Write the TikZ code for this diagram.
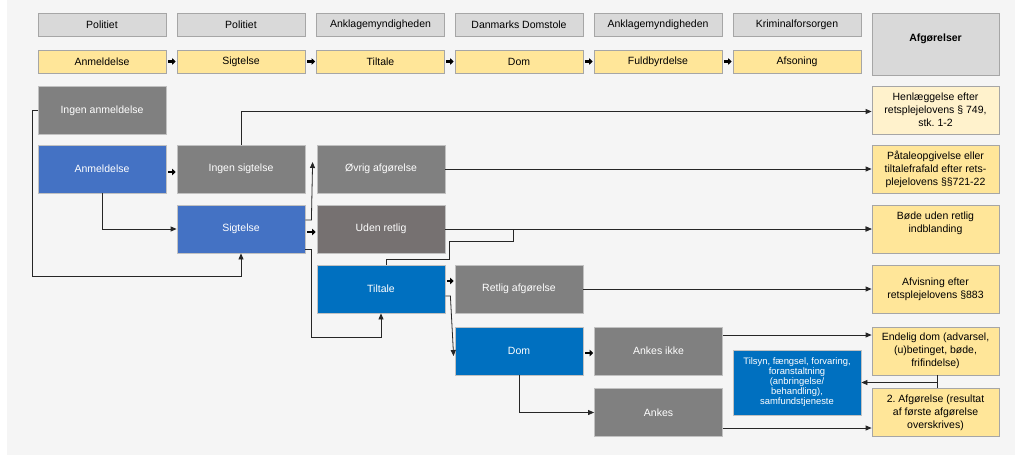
\documentclass[tikz,border=0pt]{standalone}
\usepackage{fontspec}
\setmainfont{Liberation Sans}
\usetikzlibrary{arrows.meta,positioning}

\definecolor{bgcol}{HTML}{F5F5F5}
\definecolor{hdrcol}{HTML}{D9D9D9}
\definecolor{edgecol}{HTML}{A6A6A6}
\definecolor{stagecol}{HTML}{FFE699}
\definecolor{palecol}{HTML}{FFF2CC}
\definecolor{greycol}{HTML}{808080}
\definecolor{darkgreycol}{HTML}{767171}
\definecolor{lightblue}{HTML}{4472C4}
\definecolor{darkblue}{HTML}{0070C0}

\begin{document}
\frenchspacing
\begin{tikzpicture}[x=1pt, y=-1pt, font=\fontsize{10.5}{13}\selectfont]
\tikzstyle{header}=[draw=edgecol, line width=0.8pt, fill=hdrcol, minimum width=128pt, minimum height=23pt, inner sep=0pt]
\tikzstyle{stage}=[draw=edgecol, line width=0.8pt, fill=stagecol, minimum width=128pt, minimum height=23pt, inner sep=0pt]
\tikzstyle{grey}=[draw=edgecol!70, line width=0.8pt, fill=greycol, text=white, minimum width=128pt, minimum height=48pt, inner sep=0pt, align=center]
\tikzstyle{darkgrey}=[grey, fill=darkgreycol]
\tikzstyle{blue1}=[grey, fill=lightblue]
\tikzstyle{blue2}=[grey, fill=darkblue]
\tikzstyle{result}=[draw=edgecol, line width=0.8pt, fill=stagecol, minimum width=127pt, minimum height=48pt, inner sep=0pt, align=center]
\tikzstyle{line}=[draw=black!85, line width=0.8pt, -{Triangle[length=6pt,width=5pt]}]
\tikzstyle{step arrow}=[line width=2.2pt, -{Triangle[length=3.5pt,width=6.5pt]}, shorten <=1.5pt, shorten >=1pt]

\fill[bgcol] (7,0) rectangle (1015,455);
\useasboundingbox (0,0) rectangle (1015,455);

\node[header] (h1) at (102,24.5) {Politiet};
\node[header] (h2) at (241,24.5) {Politiet};
\node[header] (h3) at (380.5,24.5) {Anklagemyndigheden};
\node[header] (h4) at (519,24.5) {Danmarks Domstole};
\node[header] (h5) at (658,24.5) {Anklagemyndigheden};
\node[header] (h6) at (797,24.5) {Kriminalforsorgen};
\node[header, minimum width=127pt, minimum height=62pt, align=center] (hres) at (935.5,44) {\textbf{Afgørelser}\\\mbox{}};

\node[stage] (s1) at (102,61.5) {Anmeldelse};
\node[stage] (s2) at (241,61.5) {Sigtelse};
\node[stage] (s3) at (380.5,61.5) {Tiltale};
\node[stage] (s4) at (519,61.5) {Dom};
\node[stage] (s5) at (658,61.5) {Fuldbyrdelse};
\node[stage] (s6) at (797,61.5) {Afsoning};
\draw[step arrow] (s1) -- (s2);
\draw[step arrow] (s2) -- (s3);
\draw[step arrow] (s3) -- (s4);
\draw[step arrow] (s4) -- (s5);
\draw[step arrow] (s5) -- (s6);

\node[grey] (noanm) at (102,110.5) {Ingen anmeldelse};
\node[blue1] (anm) at (102,169) {Anmeldelse};
\node[grey] (nosig) at (241,169) {Ingen sigtelse};
\node[blue1] (sig) at (241,229) {Sigtelse};
\node[grey] (ovr) at (381,169) {Øvrig afgørelse};
\node[darkgrey] (udr) at (381,229) {Uden retlig};
\node[blue2] (tilt) at (381,289) {Tiltale};
\node[grey] (ret) at (519,289) {Retlig afgørelse};
\node[blue2] (dom) at (519,351) {Dom};
\node[grey] (ankik) at (658.5,351) {Ankes ikke};
\node[grey] (ank) at (658.5,412.5) {Ankes};
\node[blue2, minimum height=65pt, font=\fontsize{9.4}{10}\selectfont] (tils) at (797,382.5) {Tilsyn, fængsel, forvaring,\\foranstaltning\\(anbringelse/\\behandling),\\samfundstjeneste};

\node[result, fill=palecol] (hen) at (935.5,110) {Henlæggelse efter\\retsplejelovens § 749,\\stk. 1-2};
\node[result] (paa) at (935.5,169) {Påtaleopgivelse eller\\tiltalefrafald efter rets-\\plejelovens §§721-22};
\node[result] (bod) at (935.5,229) {Bøde uden retlig\\indblanding\\\mbox{}};
\node[result] (afv) at (935.5,289) {Afvisning efter\\retsplejelovens §883};
\node[result] (endd) at (935.5,351) {Endelig dom (advarsel,\\(u)betinget, bøde,\\frifindelse)};
\node[result] (afg2) at (935.5,412.5) {2. Afgørelse (resultat\\af første afgørelse\\overskrives)};

\draw[line] (noanm.west) -- ++(-5,0) |- ([yshift=-23pt]sig.south) -- (sig.south);
\draw[line] (nosig.north) |- ([yshift=-1.5pt]hen.west);
\draw[step arrow] ([yshift=-3pt]anm.east) -- ([yshift=-3pt]nosig.west);
\draw[line] (anm.south) |- (sig.west);
\draw[line] ([yshift=9pt]sig.east) -- ++(6,0) -- ([xshift=-4pt,yshift=7pt]ovr.west);
\draw[step arrow] ([yshift=-3pt]sig.east) -- ([yshift=-3pt]udr.west);
\draw[line] ([yshift=-20pt]sig.east) -- ++(6,0) |- ([yshift=-24pt]tilt.south) -- (tilt.south);
\draw[line] (ovr.east) -- (paa.west);
\draw[line] (udr.east) -- (bod.west);
\draw[line] ([xshift=5pt]tilt.north) -- ++(0,-5) -- ++(63,0) -- ++(0,-18) -- ++(64,0) |- (bod.west);
\draw[step arrow] ([yshift=8pt]tilt.east) -- ([yshift=8pt]ret.west);
\draw[line] ([yshift=-7pt]tilt.east) -- ++(5,0) -- ([xshift=-1pt,yshift=-5pt]dom.west);
\draw[line] (ret.east) -- (afv.west);
\draw[step arrow] ([yshift=-2pt]dom.east) -- ([yshift=-2pt]ankik.west);
\draw[line] (dom.south) |- (ank.west);
\draw[line] ([yshift=16pt]ankik.east) -- ([yshift=16pt]endd.west);
\draw[line] ([yshift=-15.5pt]ank.east) -- ([yshift=-15.5pt]afg2.west);
\draw[draw=black!85, line width=0.8pt] ([xshift=1.5pt]endd.south) -- ([xshift=1.5pt]afg2.north);
\draw[line] ([xshift=1.5pt]endd.south |- tils.east) -- (tils.east);

\end{tikzpicture}
\end{document}
